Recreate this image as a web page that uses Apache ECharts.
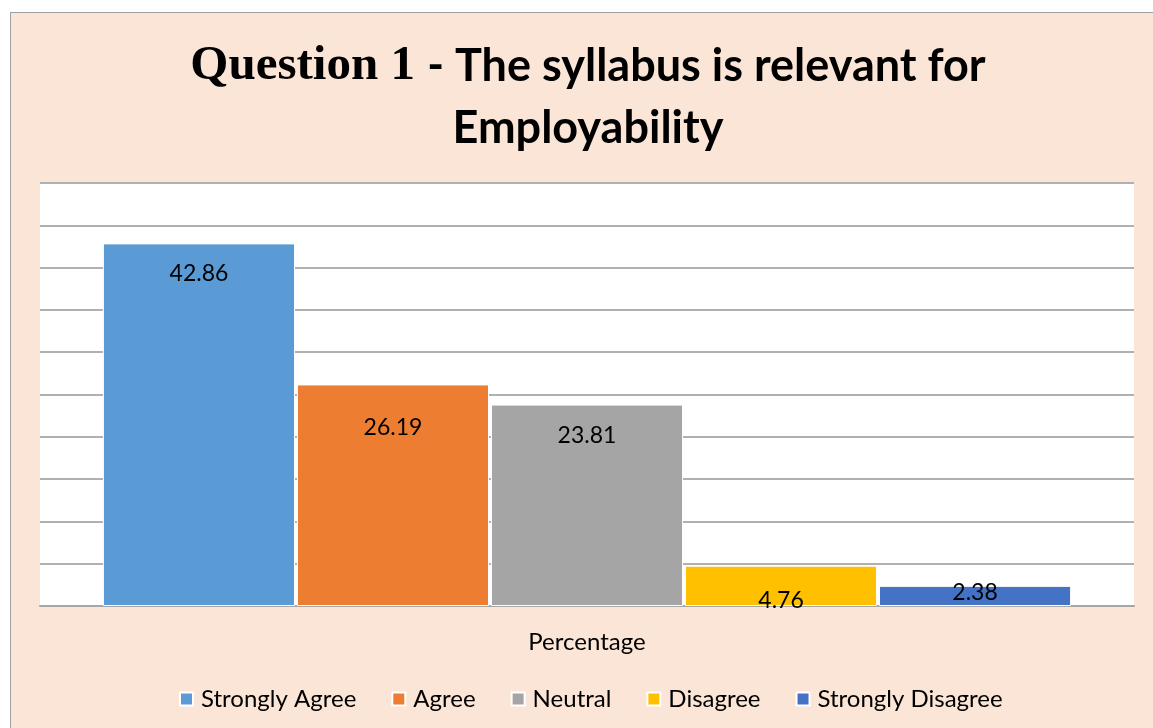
<!DOCTYPE html>
<html>
<head>
<meta charset="utf-8">
<script src="https://cdn.jsdelivr.net/npm/echarts@6/dist/echarts.min.js"></script>
<style>
  html, body { margin: 0; padding: 0; background: #fff; overflow: hidden; }
  #frame {
    position: absolute; left: 10px; top: 12px;
    width: 1143px; height: 716px;
    border-left: 1px solid #a0a0a0; border-top: 1px solid #a0a0a0;
    background: #fbe5d6;
  }
  #chart { width: 1143px; height: 716px; }
</style>
</head>
<body>
<div id="frame"><div id="chart"></div></div>
<script>
const categories = ['Percentage'];
const seriesNames = ['Strongly Agree', 'Agree', 'Neutral', 'Disagree', 'Strongly Disagree'];
const seriesValues = [42.86, 26.19, 23.81, 4.76, 2.38];
const seriesColors = ['#5b9bd5', '#ed7d31', '#a5a5a5', '#ffc000', '#4472c4'];
// where the value label sits, measured down from the bar top
const labelDrop = [30, 43, 31, 35, 7];

const font = 'Lato, "Open Sans", sans-serif';

const chart = echarts.init(document.getElementById('chart'));

const series = seriesNames.map((name, i) => ({
  name: name,
  type: 'bar',
  data: [seriesValues[i]],
  barGap: '1%',
  barCategoryGap: '11.5%',
  itemStyle: { color: seriesColors[i], borderColor: '#fff', borderWidth: 1 },
  label: {
    show: true,
    position: ['50%', labelDrop[i]],
    align: 'center',
    verticalAlign: 'middle',
    color: '#000',
    fontFamily: font,
    fontSize: 23,
    formatter: (p) => p.value.toFixed(2)
  }
}));

chart.setOption({
  backgroundColor: 'transparent',
  animation: false,
  title: {
    text: '{a|Question 1 }{b|- The syllabus is relevant for}\n{b|Employability}',
    left: 572,
    textAlign: 'center',
    top: 17,
    textStyle: {
      rich: {
        a: { fontFamily: '"Liberation Serif", serif', fontWeight: 'bold', fontSize: 49, color: '#000', lineHeight: 62 },
        b: { fontFamily: font, fontWeight: 'bold', fontSize: 45, color: '#000', lineHeight: 62 }
      }
    }
  },
  legend: {
    bottom: 13,
    left: 163,
    itemWidth: 13,
    itemHeight: 13,
    itemGap: 35,
    icon: 'rect',
    textStyle: { fontFamily: font, fontSize: 24, color: '#000', padding: [0, 0, 0, 3] },
    data: seriesNames
  },
  grid: {
    left: 29, right: 20, top: 170, bottom: 123,
    show: true, backgroundColor: '#fff', borderWidth: 0
  },
  xAxis: {
    type: 'category',
    data: categories,
    axisLine: { lineStyle: { color: '#a6a6a6', width: 2 } },
    axisTick: { show: false },
    axisLabel: { margin: 24, fontFamily: font, fontSize: 24, color: '#000' }
  },
  yAxis: {
    type: 'value',
    min: 0, max: 50, interval: 5,
    axisLine: { show: false },
    axisTick: { show: false },
    axisLabel: { show: false },
    splitLine: { lineStyle: { color: '#b0b0b0', width: 2 } }
  },
  series: series
});
</script>
</body>
</html>
